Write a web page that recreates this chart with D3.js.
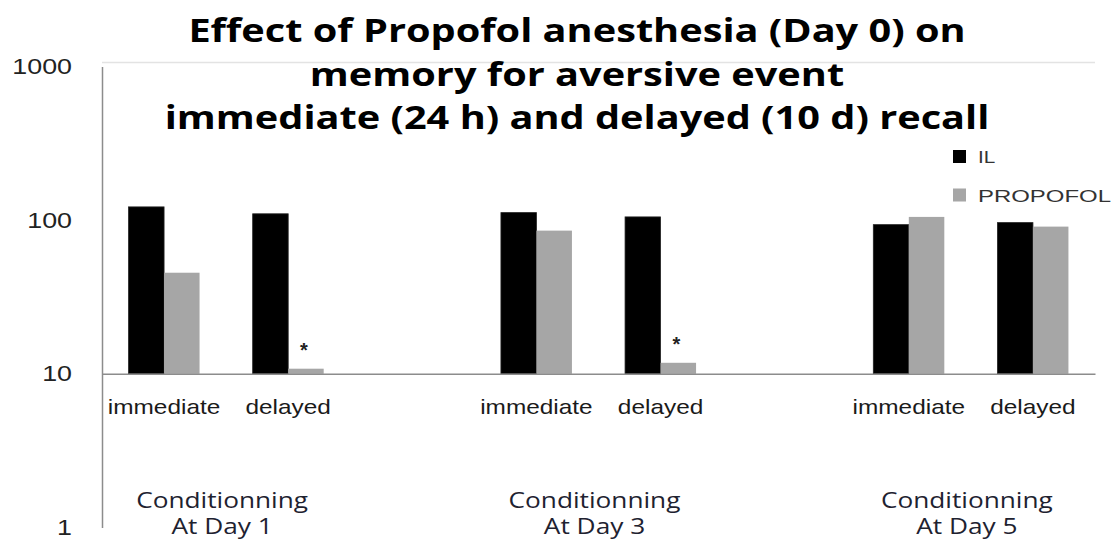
<!DOCTYPE html>
<html>
<head>
<meta charset="utf-8">
<script src="https://cdn.jsdelivr.net/npm/d3@7"></script>
<style>
  html, body { margin: 0; padding: 0; background: #fff; }
  svg { display: block; }
</style>
</head>
<body>
<svg id="chart"></svg>
<script>
// values (log axis, bars start at 10)
const categories = ["immediate", "delayed", "", "immediate", "delayed", "", "immediate", "delayed"];
const ilValues = [122, 110, null, 112, 105, null, 93.5, 96.4];
const propofolValues = [45.5, 10.8, null, 85.5, 11.8, null, 105, 90.8];
const significance = ["", "*", "", "", "*", "", "", ""];
const groupLabels = [
  ["Conditionning", "At Day 1"],
  ["Conditionning", "At Day 3"],
  ["Conditionning", "At Day 5"],
];
const groupSlots = [[0, 1], [3, 4], [6, 7]];
const seriesNames = ["IL", "PROPOFOL"];
const seriesColors = ["#000000", "#a6a6a6"];
const yTicks = [1, 10, 100, 1000];
const titleLines = [
  "Effect of Propofol anesthesia (Day 0) on",
  "memory for aversive event",
  "immediate (24 h) and delayed (10 d) recall",
];

const width = 1115;
const height = 540;
const left = 102;
const right = 1095;
const stretch = 1.22; // the picture is squeezed wide

const svg = d3
  .select("#chart")
  .attr("width", width)
  .attr("height", height)
  .attr("viewBox", `0 0 ${width} ${height}`);

const yScale = d3.scaleLog().domain([1, 1000]).range([527.5, 66.5]);

const xScale = d3
  .scaleBand()
  .domain(d3.range(categories.length))
  .range([left, right])
  .paddingInner(0)
  .paddingOuter(0);

const barW = 35.5;

// plot top border
svg
  .append("line")
  .attr("x1", left)
  .attr("x2", right)
  .attr("y1", yScale(1000) - 4)
  .attr("y2", yScale(1000) - 4)
  .style("stroke", "#e3e3e3")
  .style("stroke-width", 1.5);

// y axis
const yAxis = d3
  .axisLeft(yScale)
  .tickValues(yTicks)
  .tickFormat(d3.format("d"))
  .tickSize(0)
  .tickSizeOuter(0)
  .tickPadding(30 / stretch);

const gy = svg.append("g").attr("transform", `translate(${left}, 0)`).call(yAxis);
gy.select(".domain").style("stroke", "#8c8c8c").style("stroke-width", 1.5);
gy.selectAll("text")
  .attr("transform", `scale(${stretch}, 1)`)
  .style("font-family", "'Liberation Sans', Arial, sans-serif")
  .style("font-size", "22px")
  .style("fill", "#222");

// bars
const base = yScale(10);
const bars = [];
categories.forEach((c, i) => {
  [ilValues[i], propofolValues[i]].forEach((v, s) => {
    if (v != null) bars.push({ i, s, v });
  });
});

svg
  .selectAll("rect.bar")
  .data(bars)
  .enter()
  .append("rect")
  .attr("class", "bar")
  .attr("x", (d) => xScale(d.i) + xScale.bandwidth() / 2 - barW + d.s * barW)
  .attr("y", (d) => Math.min(yScale(d.v), base))
  .attr("width", barW)
  .attr("height", (d) => Math.abs(base - yScale(d.v)))
  .style("fill", (d) => seriesColors[d.s])
  .style("stroke", (d) => (d.s === 0 ? "#222" : "none"))
  .style("stroke-width", 0.8);

// x axis at 10
const xAxis = d3
  .axisBottom(xScale)
  .tickFormat((i) => categories[i])
  .tickSize(0)
  .tickSizeOuter(0)
  .tickPadding(26);

const gx = svg.append("g").attr("transform", `translate(0, ${base})`).call(xAxis);
gx.select(".domain").style("stroke", "#8c8c8c").style("stroke-width", 1.5);
gx.selectAll("text")
  .attr("transform", `scale(${stretch}, 1)`)
  .style("font-family", "'Liberation Sans', Arial, sans-serif")
  .style("font-size", "20px")
  .style("fill", "#1a1a1a");

// significance marks
svg
  .selectAll("text.sig")
  .data(categories.map((c, i) => ({ i, t: significance[i] })).filter((d) => d.t))
  .enter()
  .append("text")
  .attr("class", "sig")
  .attr("text-anchor", "middle")
  .attr(
    "transform",
    (d) =>
      `translate(${xScale(d.i) + xScale.bandwidth() / 2 + barW / 2 - 2}, ${
        yScale(propofolValues[d.i]) - 12
      })`
  )
  .style("font-family", "'Liberation Sans', Arial, sans-serif")
  .style("font-weight", "bold")
  .style("font-size", "20px")
  .style("fill", "#222")
  .text((d) => d.t);

// fits a text node to a width by stretching it sideways
const fit = (sel, target) => {
  const w = sel.node().getComputedTextLength();
  return target / w;
};

// group labels
groupLabels.forEach((lines, g) => {
  const cx =
    (xScale(groupSlots[g][0]) + xScale(groupSlots[g][1]) + xScale.bandwidth()) / 2;
  const texts = lines.map((t, k) =>
    svg
      .append("text")
      .attr("text-anchor", "middle")
      .style("font-family", "'Open Sans', 'Noto Sans', sans-serif")
      .style("font-size", "21px")
      .style("fill", "#1e2230")
      .text(t)
  );
  const k = fit(texts[0], 172);
  texts.forEach((t, n) =>
    t.attr("transform", `translate(${cx - 4}, ${508 + n * 26}) scale(${k}, 1)`)
  );
});

// title
const titleNodes = titleLines.map((t) =>
  svg
    .append("text")
    .attr("text-anchor", "middle")
    .style("font-family", "'Open Sans', 'Noto Sans', sans-serif")
    .style("font-weight", "bold")
    .style("font-size", "32px")
    .style("fill", "#000")
    .text(t)
);
const tk = fit(titleNodes[2], 825);
titleNodes.forEach((t, n) =>
  t.attr("transform", `translate(577, ${42 + n * 43.5}) scale(${tk}, 1)`)
);

// legend
const legend = svg.append("g").attr("transform", "translate(953, 150)");
seriesNames.forEach((name, s) => {
  const row = legend.append("g").attr("transform", `translate(0, ${s * 38.5})`);
  row
    .append("rect")
    .attr("width", 13)
    .attr("height", 13)
    .style("fill", seriesColors[s]);
  const t = row
    .append("text")
    .attr("y", 13)
    .style("font-family", "'Liberation Sans', Arial, sans-serif")
    .style("font-size", "17px")
    .style("fill", "#333")
    .text(name);
  const k = s === 0 ? stretch : fit(t, 133);
  t.attr("transform", `translate(25, 0) scale(${k}, 1)`);
});
</script>
</body>
</html>
